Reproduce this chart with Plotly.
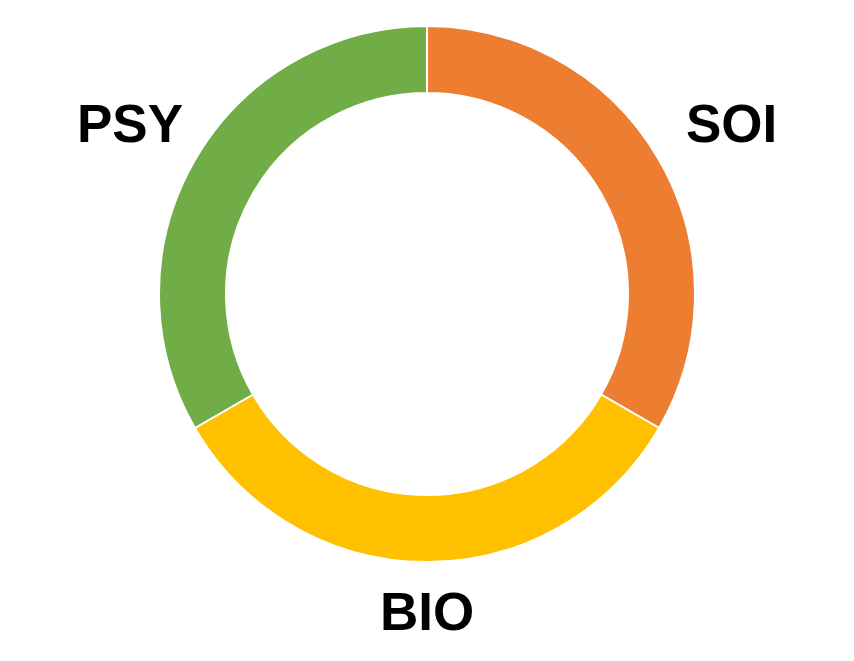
import plotly.graph_objects as go

labels = ["SOI", "BIO", "PSY"]
values = [1, 1, 1]
colors = ["#ED7D31", "#FFC000", "#70AD47"]

W, H = 854, 661
OFF = 8  # page body margin offset
cx, cy, r = 427 - OFF, 294 - OFF, 268

fig = go.Figure(go.Pie(
    labels=labels, values=values, sort=False, direction="clockwise", rotation=0,
    hole=0.75, textinfo="none", hoverinfo="label",
    marker=dict(colors=colors, line=dict(color="white", width=2)),
    domain=dict(x=[(cx - r) / W, (cx + r) / W], y=[(H - cy - r) / H, (H - cy + r) / H]),
    showlegend=False,
))

label_pos = {"SOI": (731, 123), "BIO": (427, 611), "PSY": (130, 123)}
for lab in labels:
    x, y = label_pos[lab]
    fig.add_annotation(x=(x - OFF) / W, y=1 - (y - OFF) / H, xref="paper", yref="paper",
                       text="<b>" + lab + "</b>", showarrow=False,
                       font=dict(family="Liberation Sans, Arial, sans-serif", size=53, color="black"),
                       xanchor="center", yanchor="middle")

fig.update_layout(width=W, height=H, margin=dict(l=0, r=0, t=0, b=0),
                  paper_bgcolor="white", plot_bgcolor="white")
fig.write_html("out.html")
